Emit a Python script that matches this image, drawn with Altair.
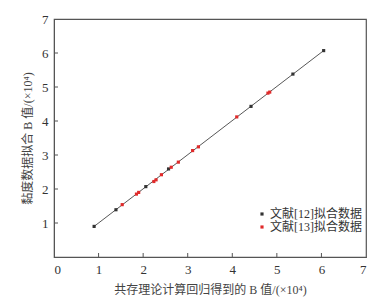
import altair as alt
import pandas as pd

# data
s12_x = [0.90, 1.39, 2.06, 2.57, 4.42, 5.36, 6.05]
s12_y = [0.90, 1.39, 2.07, 2.59, 4.43, 5.38, 6.07]
s13_x = [1.53, 1.85, 1.90, 2.24, 2.29, 2.41, 2.63, 2.79, 3.11, 3.24, 4.10, 4.80, 4.84]
s13_y = [1.54, 1.85, 1.90, 2.22, 2.27, 2.42, 2.64, 2.79, 3.13, 3.24, 4.12, 4.82, 4.85]
fit_x = [0.90, 6.05]
fit_y = [0.90, 6.07]
x_ticks = [0, 1, 2, 3, 4, 5, 6, 7]
y_ticks = [1, 2, 3, 4, 5, 6, 7]
names = ["文献[12]拟合数据", "文献[13]拟合数据"]
colors = ["#333333", "#e02a2a"]

FONT = "Liberation Serif, Noto Sans CJK SC"

pts = pd.DataFrame({
    "x": s12_x + s13_x,
    "y": s12_y + s13_y,
    "s": [names[0]] * len(s12_x) + [names[1]] * len(s13_x),
})
fit = pd.DataFrame({"x": fit_x, "y": fit_y})

xs = alt.Scale(domain=[0, 7], nice=False)
ys = alt.Scale(domain=[0, 7], nice=False)

xaxis = alt.Axis(values=x_ticks, ticks=False, grid=False, labelPadding=6, labelOverlap=False,
                 title="共存理论计算回归得到的 B 值/(×10⁴)", titlePadding=8)
yaxis = alt.Axis(values=y_ticks, ticks=False, grid=False, labelPadding=6, labelOverlap=False,
                 title="黏度数据拟合 B 值/(×10⁴)", titlePadding=7)

line = alt.Chart(fit).mark_line(color="#444444", strokeWidth=0.9).encode(
    x=alt.X("x:Q", scale=xs, axis=xaxis),
    y=alt.Y("y:Q", scale=ys, axis=yaxis),
)

points = alt.Chart(pts).mark_point(shape="square", filled=True, size=10, opacity=1).encode(
    x=alt.X("x:Q", scale=xs, axis=xaxis),
    y=alt.Y("y:Q", scale=ys, axis=yaxis),
    color=alt.Color("s:N", scale=alt.Scale(domain=names, range=colors),
                    legend=alt.Legend(orient="none", legendX=202, legendY=189, title=None,
                                      symbolType="square", symbolSize=10, labelFontSize=12,
                                      labelFont=FONT, labelColor="#333333", rowPadding=1,
                                      symbolOffset=0, labelOffset=2)),
)

xt = pd.DataFrame({"x": x_ticks[1:-1]})
yt = pd.DataFrame({"y": y_ticks[:-1]})
xtick = alt.Chart(xt).mark_rule(color="#555555", strokeWidth=1).encode(
    x=alt.X("x:Q", scale=xs, axis=xaxis), y=alt.value(238), y2=alt.value(234))
ytick = alt.Chart(yt).mark_rule(color="#555555", strokeWidth=1).encode(
    y=alt.Y("y:Q", scale=ys, axis=yaxis), x=alt.value(0), x2=alt.value(4))

chart = alt.layer(line, xtick, ytick, points).properties(
    width=312, height=238, autosize="none", background="white",
    padding={"left": 46, "top": 11, "right": 16, "bottom": 41},
).configure_view(stroke="#555555", strokeWidth=1.2).configure_axis(
    domainColor="#555555", labelFont=FONT, titleFont=FONT, labelFontSize=13,
    titleFontSize=12, labelColor="#333333", titleColor="#444444", titleFontWeight="normal",
)

chart.save("out.html", embed_options={"renderer": "svg", "actions": False})
